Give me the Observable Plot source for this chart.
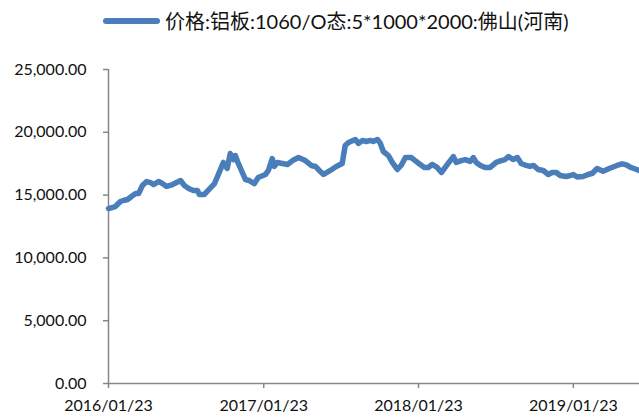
<!DOCTYPE html>
<html><head><meta charset="utf-8">
<script src="https://cdn.jsdelivr.net/npm/d3@7"></script>
<script src="https://cdn.jsdelivr.net/npm/@observablehq/plot@0.6"></script>
<style>
body{margin:0;background:#fff;width:639px;height:417px;overflow:hidden;font-family:Lato,"Noto Sans CJK SC",sans-serif;}
#legend{position:relative;height:44px;width:639px;}
#legend .swatch{position:absolute;left:103px;top:18px;width:57px;height:6px;border-radius:3px;background:#4a7ebb;}
#legend .label{position:absolute;left:165px;top:7px;font-size:20px;line-height:28px;color:#111;white-space:nowrap;}
#chart svg{display:block;}
</style></head><body>
<div id="legend"><div class="swatch"></div><div class="label" id="lbl"></div></div>
<div id="chart"></div>
<script>
const seriesName = "价格:铝板:1060/O态:5*1000*2000:佛山(河南)";
const dates = ["2016-01-23","2016-02-08","2016-02-20","2016-02-27","2016-03-08","2016-03-17","2016-03-27","2016-04-03","2016-04-12","2016-04-22",
"2016-05-01","2016-05-08","2016-05-20","2016-05-29","2016-06-08","2016-06-22","2016-07-11","2016-07-20","2016-07-30","2016-08-10",
"2016-08-20","2016-08-24","2016-09-05","2016-09-29","2016-10-20","2016-10-29","2016-11-05","2016-11-13","2016-11-17","2016-11-24",
"2016-12-11","2016-12-20","2017-01-01","2017-01-10","2017-01-27","2017-02-03","2017-02-12","2017-02-17","2017-02-24","2017-03-08",
"2017-03-20","2017-04-01","2017-04-15","2017-05-01","2017-05-15","2017-05-25","2017-06-03","2017-06-13","2017-06-29","2017-07-13",
"2017-07-27","2017-08-03","2017-08-11","2017-08-27","2017-09-03","2017-09-13","2017-09-22","2017-10-01","2017-10-08","2017-10-18",
"2017-10-25","2017-11-01","2017-11-13","2017-11-22","2017-12-04","2017-12-13","2017-12-23","2018-01-06","2018-01-15","2018-01-27",
"2018-02-06","2018-02-15","2018-02-24","2018-03-08","2018-03-18","2018-04-01","2018-04-15","2018-04-22","2018-05-04","2018-05-13",
"2018-05-25","2018-06-01","2018-06-08","2018-06-18","2018-06-29","2018-07-11","2018-07-25","2018-08-06","2018-08-15","2018-08-23",
"2018-09-03","2018-09-13","2018-09-22","2018-10-04","2018-10-13","2018-10-21","2018-11-01","2018-11-13","2018-11-25","2018-12-04",
"2018-12-14","2018-12-23","2019-01-06","2019-01-16","2019-01-23","2019-02-01","2019-02-15","2019-02-27","2019-03-09","2019-03-20",
"2019-04-03","2019-04-15","2019-04-25","2019-05-06","2019-05-18","2019-05-28","2019-06-06","2019-06-18","2019-06-27"];
const prices = [13930,14090,14490,14570,14650,14890,15130,15130,15760,16080,
16000,15840,16080,15920,15690,15840,16160,15760,15530,15370,
15370,15050,15050,15920,17600,17120,18310,17830,18150,17520,
16240,16160,15920,16400,16640,16960,17910,17280,17600,17520,
17440,17750,17990,17750,17360,17280,16960,16640,16960,17280,
17520,18950,19190,19430,19110,19350,19270,19350,19270,19430,
19110,18470,18150,17600,17040,17360,17990,17990,17750,17440,
17200,17200,17440,17200,16800,17440,18070,17600,17750,17830,
17680,17990,17600,17360,17200,17200,17600,17750,17830,18070,
17830,17990,17520,17360,17280,17360,17040,16960,16640,16800,
16800,16560,16480,16560,16640,16440,16480,16640,16740,17120,
16900,17080,17220,17360,17490,17400,17220,17080,16960];
const yTicks = [0,5000,10000,15000,20000,25000];
const xTicks = ["2016-01-23","2017-01-23","2018-01-23","2019-01-23"];
const xDomain = ["2016-01-23","2019-06-28"];

document.getElementById("lbl").textContent = seriesName;
const parse = d3.utcParse("%Y-%m-%d");
const data = dates.map((d,i)=>({date:parse(d), price:prices[i]}));
const axisColor = "#868686";
const x0 = parse(xDomain[0]);

const chart = Plot.plot({
  width:639, height:373,
  marginTop:25, marginBottom:34, marginLeft:108, marginRight:0,
  style:{fontFamily:"Lato, 'Noto Sans CJK SC', sans-serif", fontSize:"16px", color:"#111", background:"#fff"},
  x:{type:"utc", domain:xDomain.map(parse), label:null},
  y:{domain:[0,25000], label:null},
  marks:[
    Plot.axisX({ticks:xTicks.map(parse), tickFormat:d3.utcFormat("%Y/%m/%d"), tickSize:5, tickPadding:11, stroke:axisColor, strokeWidth:1.5, fill:"#111", label:null}),
    Plot.axisY({ticks:yTicks, tickFormat:d3.format(",.2f"), tickSize:5, tickPadding:17, stroke:axisColor, strokeWidth:1.5, fill:"#111", label:null}),
    Plot.ruleY([0], {stroke:axisColor, strokeWidth:1.5}),
    Plot.ruleX([x0], {stroke:axisColor, strokeWidth:1.5}),
    Plot.line(data, {x:"date", y:"price", stroke:"#4a7ebb", strokeWidth:5.5, strokeLinejoin:"round", strokeLinecap:"round"})
  ]
});
document.getElementById("chart").appendChild(chart);
</script>
</body></html>
